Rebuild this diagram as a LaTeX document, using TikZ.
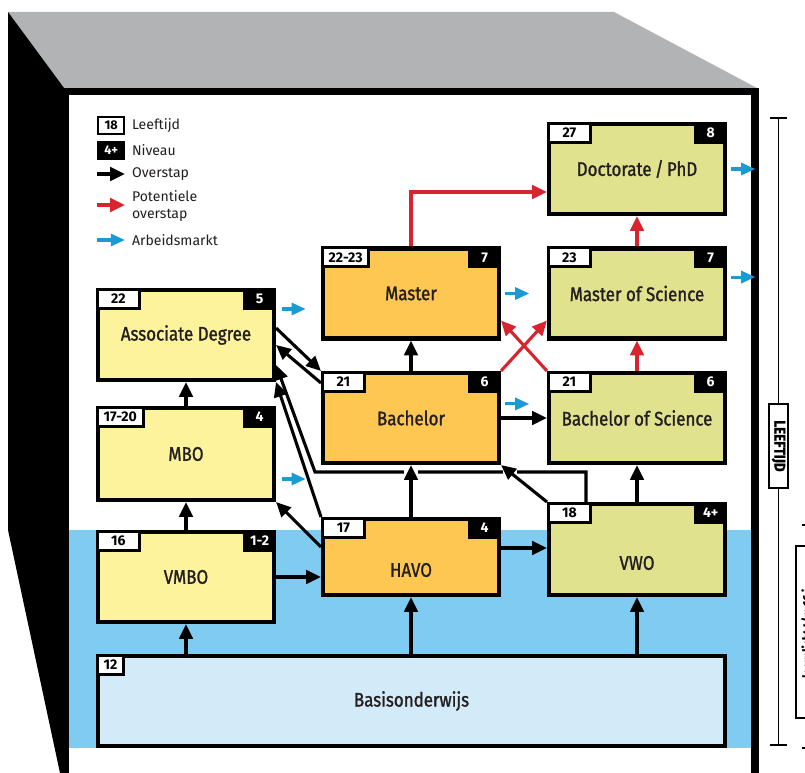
\documentclass[tikz,border=0pt]{standalone}
\usepackage{fontspec}
\setmainfont{Fira Sans}
\newfontfamily\condfont{Fira Sans}[FakeStretch=0.86, FakeBold=1.3]
\usepackage{xcolor}
\usetikzlibrary{positioning, arrows.meta, calc}

\definecolor{topgray}{HTML}{B2B3B5}
\definecolor{bandblue}{HTML}{7FCBF1}
\definecolor{basisblue}{HTML}{D3EAF8}
\definecolor{mboyellow}{HTML}{FEF39D}
\definecolor{hboorange}{HTML}{FDC752}
\definecolor{wogreen}{HTML}{E0E28D}
\definecolor{potred}{HTML}{D7242E}
\definecolor{marketblue}{HTML}{1B9AD6}
\definecolor{labelblack}{HTML}{231F20}

\begin{document}
\begin{tikzpicture}[
    x=0.25mm, y=-0.25mm,
    font=\fontsize{10}{11.5}\selectfont,
    schoolbox/.style={
        rectangle,
        draw=black,
        line width=2.9pt,
        minimum width=4.4cm,
        minimum height=2.25cm,
        inner sep=0pt,
        align=center,
        text=labelblack,
        font=\condfont\fontsize{14}{16}\selectfont
    },
    boxtext/.style={inner sep=0pt, text=labelblack, font=\condfont\fontsize{14}{16}\selectfont},
    agetag/.style={
        rectangle,
        draw=black,
        fill=white,
        line width=2pt,
        minimum width=10.5mm,
        minimum height=4.75mm,
        inner xsep=4.5pt,
        inner ysep=0pt,
        font=\bfseries\fontsize{10}{11}\selectfont
    },
    niveautag/.style={agetag, fill=black, text=white, minimum width=7.5mm, inner xsep=4pt},
    legendtag/.style={minimum width=6.5mm, minimum height=4.25mm, inner xsep=2pt, line width=1.6pt, font=\bfseries\fontsize{9}{10}\selectfont},
    legendtext/.style={anchor=west, align=left, text=labelblack, inner sep=0pt, outer sep=5pt},
    scalebox/.style={draw=black, fill=white, line width=1.4pt, inner sep=0pt, font=\condfont\bfseries\fontsize{11}{12}\selectfont},
    overstap/.style={-{Triangle[length=10.5pt, width=9.5pt]}, line width=2.2pt},
    potentieel/.style={overstap, draw=potred},
    markt/.style={-{Triangle[length=10pt, width=8.5pt]}, line width=2.2pt, draw=marketblue}
]

\def\xl{186}
\def\xm{411}
\def\xr{637}

% Frame (cube)
\clip (0,0) rectangle (805,773);
\fill[white] (0,0) rectangle (805,773);
\fill[topgray] (8,12) -- (614,12) -- (757,88) -- (62,88) -- cycle;
\fill[black] (8,12) -- (64,88) -- (64,773) -- (60,773) -- (8,530) -- cycle;
\fill[bandblue] (68,530) rectangle (752,748);
\draw[line width=5pt] (65.5,91.5) rectangle (755,820);

% Boxes
\node[schoolbox, fill=wogreen] (doc) at (\xr, 169) {Doctorate\,/\,PhD};
\node[schoolbox, fill=wogreen] (msc) at (\xr, 293.5) {Master of Science};
\node[schoolbox, fill=wogreen] (bsc) at (\xr, 418) {Bachelor of Science};
\node[schoolbox, fill=wogreen, minimum height=2.275cm] (vwo) at (\xr, 549.5) {};
\node[boxtext] (vwo-t) at (\xr, 563) {VWO};

\node[schoolbox, fill=hboorange] (master) at (\xm, 293.5) {Master};
\node[schoolbox, fill=hboorange] (bachelor) at (\xm, 418) {Bachelor};
\node[schoolbox, fill=hboorange, minimum height=1.9cm] (havo) at (\xm, 557) {};
\node[boxtext] (havo-t) at (\xm, 570) {HAVO};

\node[schoolbox, fill=mboyellow] (ad) at (\xl, 335) {Associate Degree};
\node[schoolbox, fill=mboyellow, minimum height=2.3cm] (mbo) at (\xl, 454) {MBO};
\node[schoolbox, fill=mboyellow] (vmbo) at (\xl, 577) {VMBO};

\node[schoolbox, fill=basisblue, minimum width=15.675cm] (basis) at (411.5, 701) {Basisonderwijs};

% Leeftijd / niveau
\node[agetag, anchor=north west] (doc-a) at (doc.north west) {27};
\node[niveautag, anchor=north east] (doc-n) at (doc.north east) {8};
\node[agetag, anchor=north west] (msc-a) at (msc.north west) {23};
\node[niveautag, anchor=north east] (msc-n) at (msc.north east) {7};
\node[agetag, anchor=north west] (bsc-a) at (bsc.north west) {21};
\node[niveautag, anchor=north east] (bsc-n) at (bsc.north east) {6};
\node[agetag, anchor=north west] (vwo-a) at (vwo.north west) {18};
\node[niveautag, anchor=north east] (vwo-n) at (vwo.north east) {4+};
\node[agetag, anchor=north west] (master-a) at (master.north west) {22-23};
\node[niveautag, anchor=north east] (master-n) at (master.north east) {7};
\node[agetag, anchor=north west] (bachelor-a) at (bachelor.north west) {21};
\node[niveautag, anchor=north east] (bachelor-n) at (bachelor.north east) {6};
\node[agetag, anchor=north west] (havo-a) at (havo.north west) {17};
\node[niveautag, anchor=north east] (havo-n) at (havo.north east) {4};
\node[agetag, anchor=north west] (ad-a) at (ad.north west) {22};
\node[niveautag, anchor=north east] (ad-n) at (ad.north east) {5};
\node[agetag, anchor=north west] (mbo-a) at (mbo.north west) {17-20};
\node[niveautag, anchor=north east] (mbo-n) at (mbo.north east) {4};
\node[agetag, anchor=north west] (vmbo-a) at (vmbo.north west) {16};
\node[niveautag, anchor=north east] (vmbo-n) at (vmbo.north east) {1-2};
\node[agetag, anchor=north west, minimum width=0pt] (basis-a) at (basis.north west) {12};

% VWO -> Associate Degree (under the crossings)
\coordinate (vwo-up) at ($(vwo.north west)+(39,0)$);
\coordinate (bend) at (315,472);
\draw[overstap] (vwo-up) |- (bend) -- ($(ad.east)+(0,30)$);
\draw[white, line width=3.5pt] ($(bend -| havo.north)+(-7,0)$) -- ++(14,0);
\draw[white, line width=3.5pt] ($(bend)+(188,0)$) -- ++(14,0);

% Overstap
\draw[overstap] (basis.north -| vmbo.south) -- (vmbo.south);
\draw[overstap] (basis.north -| havo.south) -- (havo.south);
\draw[overstap] (basis.north -| vwo.south) -- (vwo.south);
\draw[overstap] (vmbo.north) -- (mbo.south);
\draw[overstap] (mbo.north) -- (ad.south);
\draw[overstap] (vmbo.east) -- (vmbo.east -| havo.west);
\coordinate (havo-r) at ($(havo.east)+(0,-9)$);
\draw[overstap] (havo-r) -- (havo-r -| vwo.west);
\draw[overstap] (havo.north) -- (bachelor.south);
\draw[overstap] (bachelor.north) -- (master.south);
\draw[overstap] (bachelor.east) -- (bsc.west);
\draw[overstap] (vwo.north) -- (bsc.south);
\draw[overstap] (vwo.north west) -- (bachelor.south east);
\draw[overstap] ($(havo.north west)+(0,30)$) -- (mbo.south east);
\draw[overstap] (havo.north west) -- (ad.south east);
\draw[overstap] ($(ad.east)+(0,-7)$) -- (bachelor.north west);
\draw[overstap] ($(bachelor.north west)+(0,12)$) -- ($(ad.east)+(0,10)$);

% Potentiele overstap
\coordinate (doc-in) at ($(doc.west)+(0,23)$);
\draw[potentieel] (master.north) |- (doc-in);
\draw[potentieel] (msc.north) -- (doc.south);
\draw[potentieel] (bsc.north) -- (msc.south);
\draw[potentieel] (bachelor.north east) -- ($(msc.south west)+(0,-20)$);
\draw[potentieel] (bsc.north west) -- ($(master.south east)+(0,-20)$);

% Arbeidsmarkt
\draw[markt] ([xshift=4pt, yshift=18.5pt]ad.east) -- ++(24,0);
\draw[markt] ([xshift=4pt, yshift=-17.8pt]mbo.east) -- ++(24,0);
\draw[markt] ([xshift=3pt]master.east) -- ++(24,0);
\draw[markt] ([xshift=3pt, yshift=10pt]bachelor.east) -- ++(24,0);
\draw[markt] ([xshift=3pt]doc.east) -- ++(24,0);
\draw[markt] ([xshift=3pt, yshift=11.7pt]msc.east) -- ++(24,0);

% Legend
\node[agetag, legendtag, anchor=west] (leg-age) at (97,125.5) {18};
\node[legendtext] (leg-age-t) at (125,125.5) {Leeftijd};
\node[niveautag, legendtag, anchor=west] (leg-niv) at (97,150.5) {4+};
\node[legendtext] (leg-niv-t) at (125,150.5) {Niveau};
\coordinate (leg-o) at (97,174);
\node[legendtext] (leg-o-t) at (125,174) {Overstap};
\draw[overstap] (leg-o) -- (leg-o-t.west);
\coordinate (leg-p) at (97,205);
\node[legendtext] (leg-p-t) at (125,206) {Potentiele\\overstap};
\draw[potentieel] (leg-p) -- (leg-p -| leg-p-t.west);
\coordinate (leg-m) at (97,240);
\node[legendtext] (leg-m-t) at (125,240) {Arbeidsmarkt};
\draw[markt] (leg-m) -- (leg-m-t.west);

% Leeftijd scale
\coordinate (age-top) at (778.5,118);
\coordinate (age-bot) at (778.5,745);
\draw[line width=1.4pt] (age-top) -- (age-bot);
\draw[line width=1.4pt] ([xshift=-5.7pt]age-top) -- ([xshift=5.7pt]age-top);
\draw[line width=1.4pt] ([xshift=-5.7pt]age-bot) -- ([xshift=5.7pt]age-bot);
\node[scalebox, rotate=-90, minimum width=21mm, minimum height=4.75mm] (leeftijd) at (778.5,446) {LEEFTIJD};

% Leerplicht scale (cut off)
\coordinate (plicht-top) at (810,525);
\coordinate (plicht-bot) at (810,748);
\draw[line width=1.4pt] (plicht-top) -- (plicht-bot);
\draw[line width=1.4pt] ([xshift=-5.7pt]plicht-top) -- ([xshift=5.7pt]plicht-top);
\draw[line width=1.4pt] ([xshift=-5.7pt]plicht-bot) -- ([xshift=5.7pt]plicht-bot);
\node[scalebox, rotate=90, minimum width=43mm, minimum height=6mm, font=\condfont\bfseries\fontsize{9}{10}\selectfont] (plicht) at (808,632) {leerplicht t/m 16 j.};

\end{tikzpicture}
\end{document}
